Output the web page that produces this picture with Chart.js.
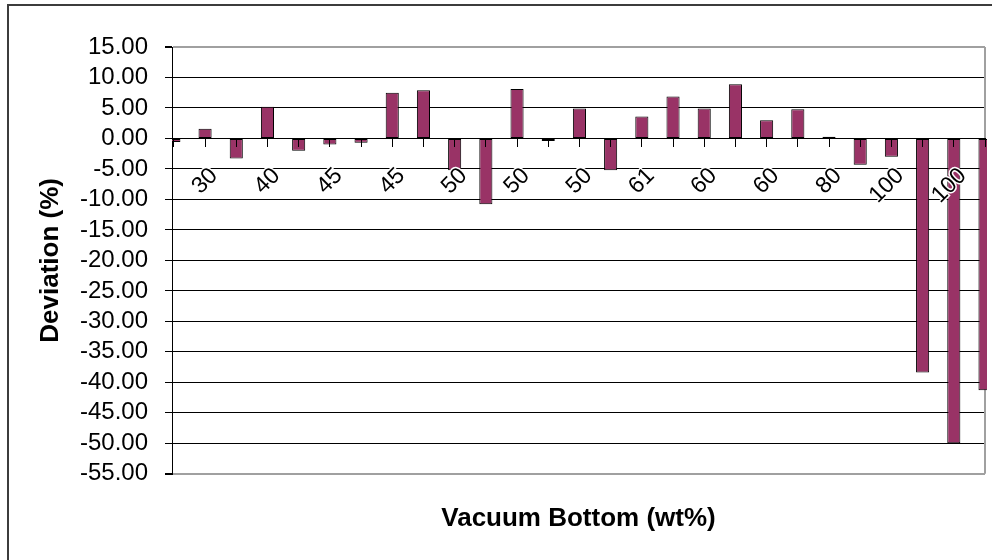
<!DOCTYPE html>
<html lang="en">
<head>
<meta charset="UTF-8" />
<title>Deviation vs Vacuum Bottom</title>
<style>
  html, body { margin: 0; padding: 0; background: #fff; }
  #wrap { position: relative; width: 992px; height: 560px; overflow: hidden; }
  #frame {
    position: absolute; left: 7px; top: 4px; width: 1100px; height: 700px;
    border: 2px solid #3c3c3c; pointer-events: none;
  }
  canvas { display: block; }
</style>
</head>
<body>
<div id="wrap">
  <canvas id="devChart" width="992" height="560"></canvas>
  <div id="frame"></div>
</div>
<script src="https://cdn.jsdelivr.net/npm/chart.js"></script>
<script>
// categories (wt% vacuum bottom), only every other one is labelled on the axis
const categories = ["30", "30", "30", "40", "40", "40", "45", "45", "45", "45",
                    "50", "50", "50", "50", "50", "61", "61", "60", "60", "60",
                    "60", "80", "80", "100", "100", "100", "100", "100"];
// deviation (%) per category; the first one sits left of the axis
const deviation = [null, -0.6, 1.6, -3.3, 5.2, -2.0, -1.0, -0.7, 7.5, 7.9,
                   -5.2, -10.8, 8.1, -0.4, 4.9, -5.2, 3.6, 6.9, 4.9, 8.9,
                   3.0, 4.8, 0.3, -4.3, -3.0, -38.4, -50.0, -41.3];
const yMin = -55;
const yMax = 15;
const yStep = 5;

const FONT = '"Liberation Sans", Arial, sans-serif';

// grey right edge of the plot area under the bars, and a clip that lets
// the last bar run just past that edge
const plotFrame = {
  id: "plotFrame",
  beforeDatasetsDraw(chart) {
    const { ctx, chartArea: a } = chart;
    ctx.save();
    ctx.strokeStyle = "#a0a0a0";
    ctx.lineWidth = 2;
    ctx.beginPath();
    ctx.moveTo(a.right, a.top);
    ctx.lineTo(a.right, a.bottom);
    ctx.stroke();
    ctx.restore();
    ctx.save();
    ctx.beginPath();
    ctx.rect(a.left, a.top - 2, a.right + 2 - a.left, a.bottom - a.top + 4);
    ctx.clip();
  },
  afterDatasetsDraw(chart) {
    chart.ctx.restore();
  },
};

const ctx = document.getElementById("devChart").getContext("2d");
new Chart(ctx, {
  type: "bar",
  data: {
    datasets: [
      {
        data: deviation.map((v, i) => ({ x: i, y: v })),
        backgroundColor: "#993366",
        borderColor: "#000",
        borderWidth: 1,
        borderSkipped: false,
        categoryPercentage: 1,
        barPercentage: 0.42,
        clip: false,
      },
    ],
  },
  plugins: [plotFrame],
  options: {
    responsive: false,
    animation: false,
    layout: { padding: { left: 10, top: 47, right: 7, bottom: 16 } },
    scales: {
      x: {
        type: "linear",
        position: { y: 0 },
        offset: false,
        min: 0.94,
        max: categories.length - 1,
        afterFit: (s) => {
          s.paddingLeft = 0;
          s.paddingRight = 0;
        },
        grid: {
          offset: false,
          drawOnChartArea: false,
          drawTicks: true,
          tickLength: 8,
          tickColor: "#000",
          z: 1,
        },
        border: { display: true, color: "#000", width: 1, z: 1 },
        ticks: {
          stepSize: 1,
          includeBounds: false,
          autoSkip: false,
          maxRotation: 45,
          minRotation: 45,
          padding: 16,
          labelOffset: 9,
          color: "#000",
          font: { family: FONT, size: 23 },
          textStrokeColor: "#fff",
          textStrokeWidth: 3,
          z: 1,
          callback: (v) =>
            Number.isInteger(v) && v % 2 === 0 ? categories[v] : "",
        },
      },
      y: {
        min: yMin,
        max: yMax,
        afterFit: (s) => {
          s.width = 162;
        },
        grid: {
          color: (c) =>
            c.tick && (c.tick.value === yMax || c.tick.value === yMin)
              ? "#a0a0a0"
              : "#000",
          lineWidth: (c) =>
            c.tick && (c.tick.value === yMax || c.tick.value === yMin) ? 2 : 1,
          tickColor: "#000",
          tickLength: 7,
        },
        border: { display: true, color: "#000", width: 1 },
        ticks: {
          stepSize: yStep,
          autoSkip: false,
          padding: 17,
          color: "#000",
          font: { family: FONT, size: 24 },
          callback: (v) => v.toFixed(2),
        },
        title: {
          display: true,
          text: "Deviation (%)",
          color: "#000",
          font: { family: FONT, size: 26, weight: "bold" },
          padding: { top: 25, bottom: 0 },
        },
      },
    },
    plugins: {
      legend: { display: false },
      tooltip: { enabled: false },
      title: {
        display: true,
        position: "bottom",
        fullSize: false,
        text: "Vacuum Bottom (wt%)",
        color: "#000",
        font: { family: FONT, size: 26, weight: "bold" },
        padding: { top: 29, bottom: 10 },
      },
    },
  },
});
</script>
</body>
</html>
